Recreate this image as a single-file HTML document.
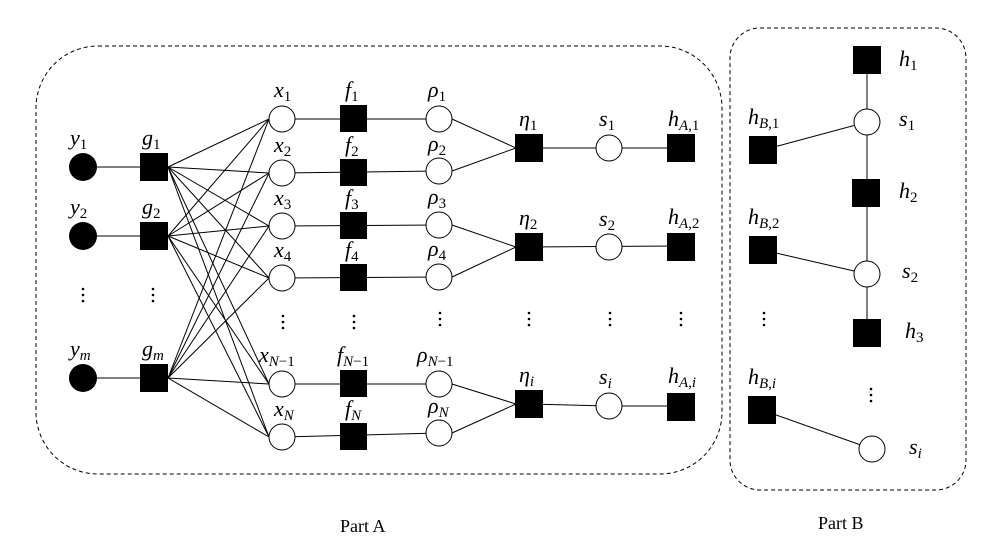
<!DOCTYPE html>
<html><head><style>body{margin:0;background:#fff}svg{display:block}text{font-family:"Liberation Serif",serif;font-style:italic;font-size:22px;fill:#000}.n{font-style:normal;font-size:18px}.s{font-size:15px}.u{font-style:normal}</style></head><body>
<svg width="1007" height="560" viewBox="0 0 1007 560" xmlns="http://www.w3.org/2000/svg">
<defs><g id="d"><circle cx="0" cy="0" r="1.3"/><circle cx="0" cy="6" r="1.3"/><circle cx="0" cy="12" r="1.3"/></g></defs>
<g fill="none" stroke="#000" stroke-width="1">
<rect x="36" y="46" width="686" height="428" rx="62" stroke-dasharray="4,3"/>
<rect x="730" y="28" width="236" height="462" rx="30" stroke-dasharray="4,3"/>
<line x1="83" y1="167" x2="154" y2="167"/><line x1="83" y1="236" x2="154" y2="236"/><line x1="83" y1="378" x2="154" y2="378"/>
<line x1="168" y1="167" x2="269" y2="119"/><line x1="168" y1="167" x2="269" y2="173"/><line x1="168" y1="167" x2="269" y2="226"/><line x1="168" y1="167" x2="269" y2="278"/><line x1="168" y1="167" x2="269" y2="384"/><line x1="168" y1="167" x2="269" y2="437"/>
<line x1="168" y1="236" x2="269" y2="119"/><line x1="168" y1="236" x2="269" y2="173"/><line x1="168" y1="236" x2="269" y2="226"/><line x1="168" y1="236" x2="269" y2="278"/><line x1="168" y1="236" x2="269" y2="384"/><line x1="168" y1="236" x2="269" y2="437"/>
<line x1="168" y1="378" x2="269" y2="119"/><line x1="168" y1="378" x2="269" y2="173"/><line x1="168" y1="378" x2="269" y2="226"/><line x1="168" y1="378" x2="269" y2="278"/><line x1="168" y1="378" x2="269" y2="384"/><line x1="168" y1="378" x2="269" y2="437"/>
<line x1="282" y1="119" x2="439" y2="119"/><line x1="282" y1="173" x2="439" y2="171"/><line x1="282" y1="226" x2="439" y2="225"/><line x1="282" y1="278" x2="439" y2="277"/><line x1="282" y1="384" x2="439" y2="384"/><line x1="282" y1="437" x2="439" y2="433"/>
<line x1="452" y1="119" x2="516" y2="148"/><line x1="452" y1="171" x2="516" y2="148"/>
<line x1="452" y1="225" x2="516" y2="247"/><line x1="452" y1="277" x2="516" y2="247"/>
<line x1="452" y1="384" x2="516" y2="404"/><line x1="452" y1="433" x2="516" y2="404"/>
<line x1="529" y1="148" x2="681" y2="148"/><line x1="529" y1="247" x2="681" y2="246"/><line x1="529" y1="404" x2="609" y2="406"/><line x1="609" y1="406" x2="681" y2="406"/>
<line x1="867" y1="60" x2="867" y2="333"/>
<line x1="763" y1="150" x2="867" y2="122"/><line x1="763" y1="250" x2="867" y2="274"/><line x1="762" y1="410" x2="872" y2="449"/>
</g>
<g fill="#000">
<circle cx="83" cy="167" r="14"/><circle cx="83" cy="236" r="14"/><circle cx="83" cy="378" r="14"/>
<rect x="140" y="153" width="28" height="28"/><rect x="140" y="222" width="28" height="28"/><rect x="140" y="364" width="28" height="28"/>
<rect x="340" y="105" width="27" height="27"/><rect x="340" y="159" width="27" height="27"/><rect x="340" y="212" width="27" height="27"/><rect x="340" y="264" width="27" height="27"/><rect x="340" y="370" width="27" height="27"/><rect x="340" y="423" width="27" height="27"/>
<rect x="515" y="134" width="28" height="28"/><rect x="515" y="233" width="28" height="28"/><rect x="515" y="390" width="28" height="28"/>
<rect x="667" y="134" width="28" height="28"/><rect x="667" y="233" width="28" height="28"/><rect x="667" y="393" width="28" height="28"/>
<rect x="853" y="46" width="28" height="28"/><rect x="852" y="179" width="28" height="28"/><rect x="853" y="319" width="28" height="28"/>
<rect x="749" y="136" width="28" height="28"/><rect x="749" y="236" width="28" height="28"/><rect x="748" y="396" width="28" height="28"/>
</g>
<g fill="#fff" stroke="#000">
<circle cx="282" cy="119" r="13"/><circle cx="282" cy="173" r="13"/><circle cx="282" cy="226" r="13"/><circle cx="282" cy="278" r="13"/><circle cx="282" cy="384" r="13"/><circle cx="282" cy="437" r="13"/>
<circle cx="439" cy="119" r="13"/><circle cx="439" cy="171" r="13"/><circle cx="439" cy="225" r="13"/><circle cx="439" cy="277" r="13"/><circle cx="439" cy="384" r="13"/><circle cx="439" cy="433" r="13"/>
<circle cx="609" cy="148" r="13"/><circle cx="609" cy="247" r="13"/><circle cx="609" cy="406" r="13"/>
<circle cx="867" cy="122" r="13"/><circle cx="867" cy="274" r="13"/><circle cx="872" cy="449" r="13"/>
</g>
<g>
<text x="70" y="145">y<tspan class="s u" dy="4">1</tspan></text>
<text x="70" y="214">y<tspan class="s u" dy="4">2</tspan></text>
<text x="70" y="356">y<tspan class="s" dy="4">m</tspan></text>
<text x="142" y="145">g<tspan class="s u" dy="4">1</tspan></text>
<text x="142" y="214">g<tspan class="s u" dy="4">2</tspan></text>
<text x="142" y="356">g<tspan class="s" dy="4">m</tspan></text>
<text x="274" y="97">x<tspan class="s u" dy="4">1</tspan></text>
<text x="274" y="152">x<tspan class="s u" dy="4">2</tspan></text>
<text x="274" y="205">x<tspan class="s u" dy="4">3</tspan></text>
<text x="274" y="257">x<tspan class="s u" dy="4">4</tspan></text>
<text x="259" y="362">x<tspan class="s" dy="4">N</tspan><tspan class="s u">−1</tspan></text>
<text x="274" y="416">x<tspan class="s" dy="4">N</tspan></text>
<text x="345" y="97">f<tspan class="s u" dy="4">1</tspan></text>
<text x="345" y="152">f<tspan class="s u" dy="4">2</tspan></text>
<text x="345" y="205">f<tspan class="s u" dy="4">3</tspan></text>
<text x="345" y="257">f<tspan class="s u" dy="4">4</tspan></text>
<text x="337" y="362">f<tspan class="s" dy="4">N</tspan><tspan class="s u">−1</tspan></text>
<text x="345" y="416">f<tspan class="s" dy="4">N</tspan></text>
<text x="428" y="97">ρ<tspan class="s u" dy="4">1</tspan></text>
<text x="428" y="151">ρ<tspan class="s u" dy="4">2</tspan></text>
<text x="428" y="204">ρ<tspan class="s u" dy="4">3</tspan></text>
<text x="428" y="256">ρ<tspan class="s u" dy="4">4</tspan></text>
<text x="417" y="362">ρ<tspan class="s" dy="4">N</tspan><tspan class="s u">−1</tspan></text>
<text x="428" y="413">ρ<tspan class="s" dy="4">N</tspan></text>
<text x="519" y="126">η<tspan class="s u" dy="4">1</tspan></text>
<text x="519" y="225">η<tspan class="s u" dy="4">2</tspan></text>
<text x="519" y="382">η<tspan class="s" dy="4">i</tspan></text>
<text x="599" y="126">s<tspan class="s u" dy="4">1</tspan></text>
<text x="599" y="226">s<tspan class="s u" dy="4">2</tspan></text>
<text x="599" y="384">s<tspan class="s" dy="4">i</tspan></text>
<text x="668" y="126">h<tspan class="s" dy="4">A,</tspan><tspan class="s u">1</tspan></text>
<text x="668" y="224">h<tspan class="s" dy="4">A,</tspan><tspan class="s u">2</tspan></text>
<text x="668" y="383">h<tspan class="s" dy="4">A,i</tspan></text>
<text x="899" y="66">h<tspan class="s u" dy="4">1</tspan></text>
<text x="899" y="126">s<tspan class="s u" dy="4">1</tspan></text>
<text x="899" y="198">h<tspan class="s u" dy="4">2</tspan></text>
<text x="902" y="278">s<tspan class="s u" dy="4">2</tspan></text>
<text x="905" y="338">h<tspan class="s u" dy="4">3</tspan></text>
<text x="909" y="454">s<tspan class="s" dy="4">i</tspan></text>
<text x="748" y="124">h<tspan class="s" dy="4">B,</tspan><tspan class="s u">1</tspan></text>
<text x="748" y="224">h<tspan class="s" dy="4">B,</tspan><tspan class="s u">2</tspan></text>
<text x="748" y="384">h<tspan class="s" dy="4">B,i</tspan></text>
</g>
<g fill="#000">
<use href="#d" x="83" y="289"/><use href="#d" x="153" y="289"/><use href="#d" x="283" y="316"/><use href="#d" x="354" y="316"/><use href="#d" x="440" y="313"/><use href="#d" x="529" y="313"/><use href="#d" x="610" y="313"/><use href="#d" x="681" y="313"/><use href="#d" x="764" y="313"/><use href="#d" x="871" y="389"/>
</g>
<text class="n" x="340" y="532">Part A</text>
<text class="n" x="818" y="529">Part B</text>
</svg>
</body></html>
